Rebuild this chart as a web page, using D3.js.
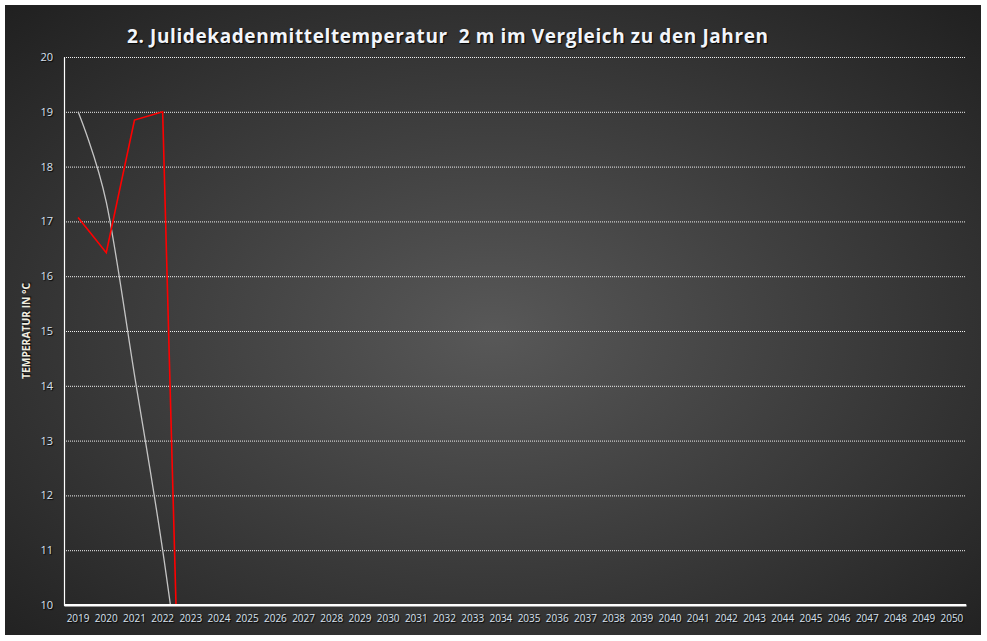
<!DOCTYPE html>
<html>
<head>
<meta charset="utf-8">
<script src="https://cdn.jsdelivr.net/npm/d3@7"></script>
<style>
  html, body { margin: 0; padding: 0; background: #ffffff; }
  svg { display: block; }
  .shadow { text-shadow: 1px 1px 1px rgba(0,0,0,0.9); }
</style>
</head>
<body>
<script>
// ---- data ----
const years = d3.range(2019, 2051).map(String);
const tempTicks = [10, 11, 12, 13, 14, 15, 16, 17, 18, 19, 20];
// red series; it falls to 0 in 2023 (leaves the plot below 10)
const redValues = [17.07, 16.43, 18.85, 19.0, 0];
// light grey smoothed series; 2023 value lies off the chart (estimated)
const greyValues = [19.0, 17.35, 14.2, 11.0, 7.2];
const titleText = "2. Julidekadenmitteltemperatur  2 m im Vergleich zu den Jahren";
const yTitle = "TEMPERATUR IN °C";

const W = 987, H = 641;
const frame = {x: 5, y: 5, w: 976, h: 630};
const plot = {l: 64, r: 966, t: 57, b: 605};

const svg = d3.select("body").append("svg").attr("width", W).attr("height", H);
const defs = svg.append("defs");
const grad = defs.append("radialGradient").attr("id", "bg")
  .attr("cx", 0.5).attr("cy", 0.52).attr("r", 0.72);
grad.append("stop").attr("offset", 0).attr("stop-color", "#585858");
grad.append("stop").attr("offset", 1).attr("stop-color", "#202020");
defs.append("clipPath").attr("id", "clip").append("rect")
  .attr("x", plot.l).attr("y", plot.t - 2).attr("width", plot.r - plot.l).attr("height", plot.b - plot.t + 2);

svg.append("rect").attr("x", frame.x).attr("y", frame.y).attr("width", frame.w).attr("height", frame.h)
  .attr("fill", "url(#bg)");

const x = d3.scaleBand().domain(years).range([plot.l, plot.r]);
const y = d3.scaleLinear().domain([10, 20]).range([plot.b, plot.t]);
const cx = d => x(d) + x.bandwidth() / 2;

// gridlines
svg.append("g").selectAll("line").data(tempTicks.filter(t => t > 10)).join("line")
  .attr("x1", plot.l).attr("x2", plot.r)
  .attr("y1", d => y(d) + 0.5).attr("y2", d => y(d) + 0.5)
  .attr("stroke", "#f0f0f0").attr("stroke-width", 1).attr("stroke-dasharray", "1,1");

// y axis
const yAxis = d3.axisLeft(y).tickValues(tempTicks).tickSize(0).tickPadding(11).tickFormat(d3.format("d"));
const gy = svg.append("g").attr("transform", `translate(${plot.l},0)`).call(yAxis);
gy.select(".domain").attr("stroke", "#ffffff").attr("stroke-width", 1.2);
gy.selectAll("text").attr("fill", "#d9e2ee").attr("font-family", "'Open Sans', sans-serif")
  .attr("font-size", 11).attr("class", "shadow");

// x axis
const xAxis = d3.axisBottom(x).tickSize(0).tickPadding(10);
const gx = svg.append("g").attr("transform", `translate(0,${plot.b})`).call(xAxis);
gx.select(".domain").attr("stroke", "#ffffff").attr("stroke-width", 2.2);
gx.selectAll("text").attr("fill", "#d9e2ee").attr("font-family", "'Open Sans', sans-serif")
  .attr("font-size", 10).attr("class", "shadow");

// lines
const lineG = svg.append("g").attr("clip-path", "url(#clip)");
const greyLine = d3.line().x((d, i) => cx(years[i])).y(d => y(d)).curve(d3.curveCatmullRom.alpha(0));
lineG.append("path").datum(greyValues).attr("d", greyLine)
  .attr("fill", "none").attr("stroke", "#c4c4c4").attr("stroke-width", 1.3);
const redLine = d3.line().x((d, i) => cx(years[i])).y(d => y(d));
lineG.append("path").datum(redValues).attr("d", redLine)
  .attr("fill", "none").attr("stroke", "#ff0000").attr("stroke-width", 1.6);

// redraw bottom axis line on top
svg.append("line").attr("x1", plot.l).attr("x2", plot.r).attr("y1", plot.b).attr("y2", plot.b)
  .attr("stroke", "#ffffff").attr("stroke-width", 2.2);

// title
svg.append("text").attr("x", 127).attr("y", 43)
  .attr("font-family", "'Open Sans', sans-serif").attr("font-weight", "bold").attr("font-size", 19)
  .attr("fill", "#f2f5fa").attr("class", "shadow")
  .attr("textLength", 641).attr("lengthAdjust", "spacing")
  .style("white-space", "pre")
  .text(titleText);

// y axis title
svg.append("text").attr("transform", `translate(30,${(plot.t + plot.b) / 2}) rotate(-90)`)
  .attr("text-anchor", "middle")
  .attr("font-family", "'Open Sans', sans-serif").attr("font-weight", "bold").attr("font-size", 10)
  .attr("fill", "#f0ede0").attr("class", "shadow")
  .attr("textLength", 96).attr("lengthAdjust", "spacingAndGlyphs")
  .text(yTitle);
</script>
</body>
</html>
